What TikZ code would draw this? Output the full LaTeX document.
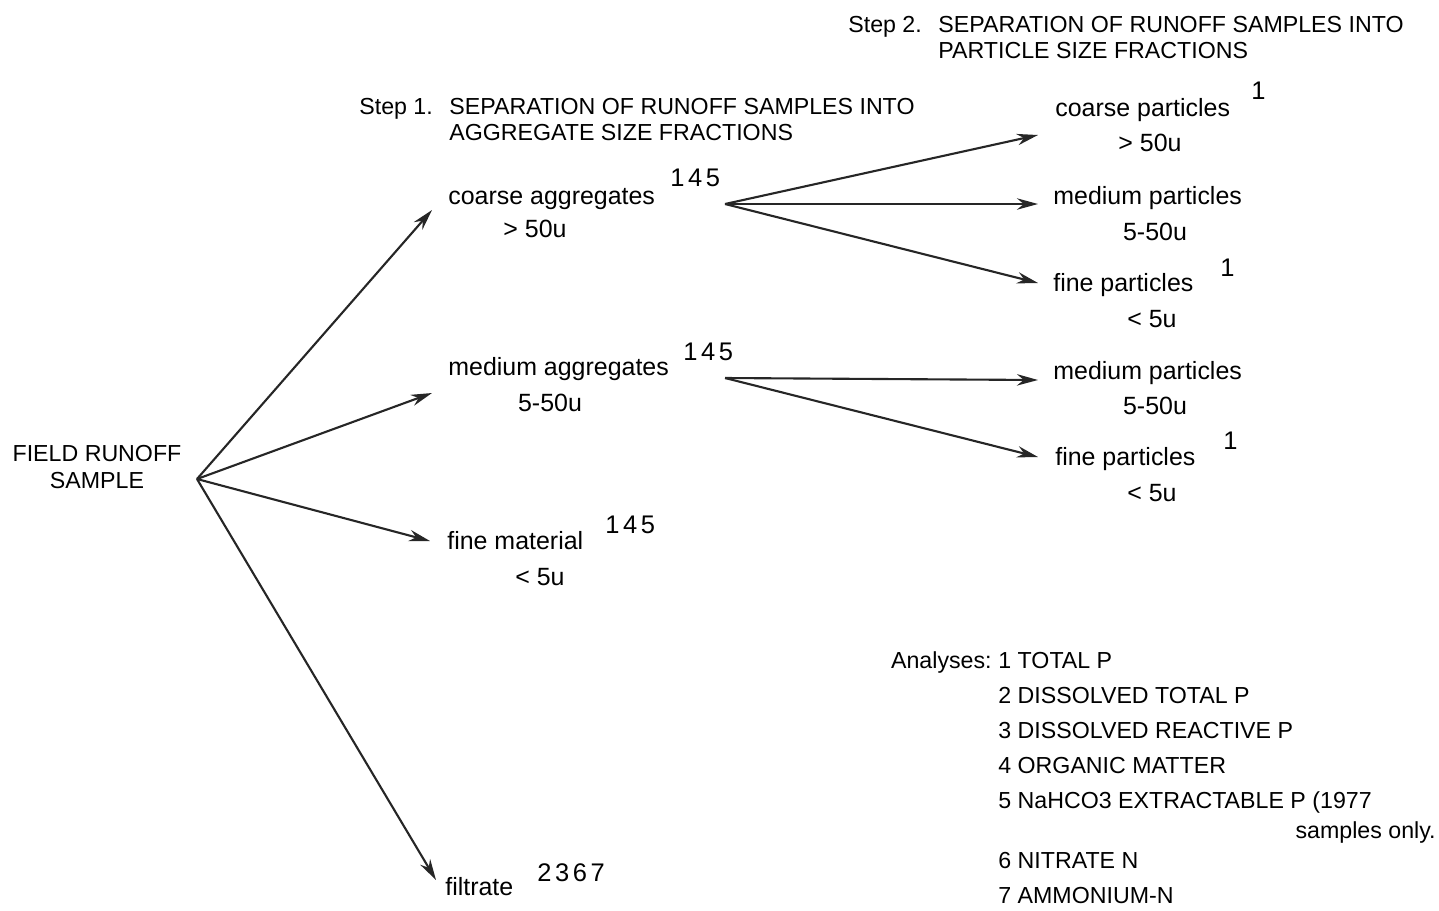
\documentclass[tikz,border=0pt]{standalone}
\usepackage{fontspec}
\setmainfont{Liberation Sans}
\newfontfamily\spacedfont[LetterSpace=14]{Liberation Sans}
\usetikzlibrary{arrows.meta}
\tikzset{
  arr/.style={-{Stealth[length=12pt,width=6.5pt]},line width=1.2pt,black!85},
  lbl/.style={anchor=base west,inner sep=0pt,font=\fontsize{14.2}{16}\selectfont},
  caps/.style={anchor=base west,inner sep=0pt,font=\fontsize{13.2}{15}\selectfont},
  sizelbl/.style={anchor=base,inner sep=0pt,font=\fontsize{14.2}{16}\selectfont},
  num/.style={anchor=base west,inner sep=0pt,font=\fontsize{14.5}{16}\spacedfont},
}
\begin{document}
\begin{tikzpicture}[x=0.02cm,y=-0.02cm]
 \useasboundingbox (0,0) rectangle (1439,910);
 % titles
 \node[caps] (s2) at (848,32) {Step 2.};
 \node[caps] (s2a) at (938,32) {SEPARATION OF RUNOFF SAMPLES INTO};
 \node[caps] (s2b) at (938,58) {PARTICLE SIZE FRACTIONS};
 \node[caps] (s1) at (359,114) {Step 1.};
 \node[caps] (s1a) at (449,114) {SEPARATION OF RUNOFF SAMPLES INTO};
 \node[caps] (s1b) at (449,140) {AGGREGATE SIZE FRACTIONS};
 % sample
 \node[caps,anchor=base] (frs) at (97,461) {FIELD RUNOFF};
 \node[caps,anchor=base] (frs2) at (97,488) {SAMPLE};
 % step 1 fractions
 \node[lbl] (ca) at (448,204) {coarse aggregates};
 \node[sizelbl] (ca2) at (535,237) {> 50u};
 \node[num] (ca3) at (670,186) {145};
 \node[lbl] (ma) at (448,375) {medium aggregates};
 \node[sizelbl] (ma2) at (550,411) {5-50u};
 \node[num] (ma3) at (683,360) {145};
 \node[lbl] (fm) at (447,549) {fine material};
 \node[sizelbl] (fm2) at (540,585) {< 5u};
 \node[num] (fm3) at (605,533) {145};
 \node[lbl] (fl) at (445,895) {filtrate};
 \node[num] (fl3) at (537,881) {2367};
 % step 2 fractions
 \node[lbl] (cp) at (1055,116) {coarse particles};
 \node[sizelbl] (cp2) at (1150,151) {> 50u};
 \node[num] (cp3) at (1251,99) {1};
 \node[lbl] (mp) at (1053,204) {medium particles};
 \node[sizelbl] (mp2) at (1155,240) {5-50u};
 \node[lbl] (fp) at (1053,291) {fine particles};
 \node[sizelbl] (fp2) at (1152,327) {< 5u};
 \node[num] (fp3) at (1220,276) {1};
 \node[lbl] (mq) at (1053,379) {medium particles};
 \node[sizelbl] (mq2) at (1155,414) {5-50u};
 \node[lbl] (fq) at (1055,465) {fine particles};
 \node[sizelbl] (fq2) at (1152,501) {< 5u};
 \node[num] (fq3) at (1223,449) {1};
 % analyses
 \node[caps,anchor=base east] (an) at (992,668) {Analyses:};
 \node[caps] (a1) at (998,668) {1 TOTAL P};
 \node[caps] (a2) at (998,703) {2 DISSOLVED TOTAL P};
 \node[caps] (a3) at (998,738) {3 DISSOLVED REACTIVE P};
 \node[caps] (a4) at (998,773) {4 ORGANIC MATTER};
 \node[caps] (a5) at (998,808) {5 NaHCO3 EXTRACTABLE P (1977};
 \node[caps,anchor=base east] (a5b) at (1436,838) {samples only.};
 \node[caps] (a6) at (998,868) {6 NITRATE N};
 \node[caps] (a7) at (998,903) {7 AMMONIUM-N};
 % connectors
 \coordinate (src) at (197,479);
 \coordinate (j1) at (725,204);
 \coordinate (j2) at (725,378);
 \coordinate (ca-in) at (432,210);
 \coordinate (ma-in) at (432,393);
 \coordinate (fm-in) at (430,541);
 \coordinate (fl-in) at (436,880);
 \coordinate (cp-in) at (1038,135);
 \coordinate (mp-in) at (1038,204);
 \coordinate (fp-in) at (1038,283);
 \coordinate (mq-in) at (1038,380);
 \coordinate (fq-in) at (1038,457);
 \draw[arr] (src) -- (ca-in);
 \draw[arr] (src) -- (ma-in);
 \draw[arr] (src) -- (fm-in);
 \draw[arr] (src) -- (fl-in);
 \draw[arr] (j1) -- (cp-in);
 \draw[arr] (j1) -- (mp-in);
 \draw[arr] (j1) -- (fp-in);
 \draw[arr] (j2) -- (mq-in);
 \draw[arr] (j2) -- (fq-in);
\end{tikzpicture}
\end{document}
